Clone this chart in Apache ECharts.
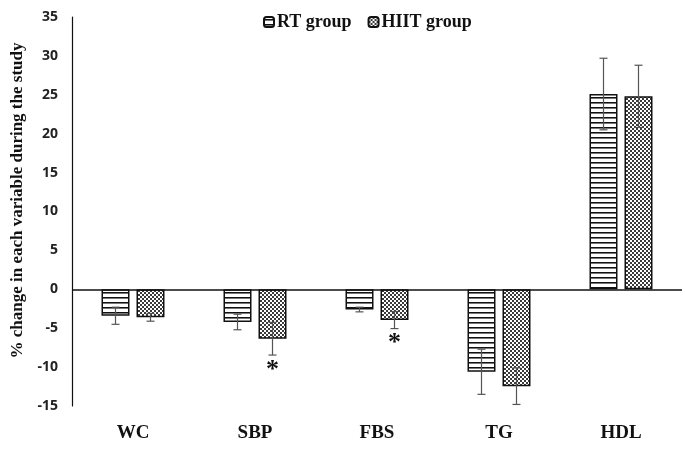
<!DOCTYPE html>
<html>
<head>
<meta charset="utf-8">
<script src="https://cdn.jsdelivr.net/npm/echarts@6/dist/echarts.min.js"></script>
<style>
  html, body { margin: 0; padding: 0; background: #fff; }
  #chart { width: 685px; height: 450px; }
</style>
</head>
<body>
<div id="chart"></div>
<script>
// data
const categories = ['WC', 'SBP', 'FBS', 'TG', 'HDL'];
const rtMean = [-3.4, -4.2, -2.6, -10.6, 25.1];
const rtSd = [1.1, 1.0, 0.3, 2.9, 4.6];
const hiitMean = [-3.6, -6.35, -3.95, -12.45, 24.8];
const hiitSd = [0.5, 2.1, 1.1, 2.35, 4.0];
const hiitSig = [0, 1, 1, 0, 0];   // * under the bar
const yTicks = { min: -15, max: 35, interval: 5 };

const BAR_W = 28;
const GAP = 7;

// hatch fills
function stripes() {
  const c = document.createElement('canvas');
  c.width = 6; c.height = 5;
  const ctx = c.getContext('2d');
  ctx.fillStyle = '#fff';
  ctx.fillRect(0, 0, 6, 5);
  ctx.fillStyle = '#111';
  ctx.fillRect(0, 2, 6, 1);
  ctx.fillStyle = '#777';
  ctx.fillRect(0, 3, 6, 1);
  return c;
}
function checker() {
  const c = document.createElement('canvas');
  c.width = 4; c.height = 4;
  const ctx = c.getContext('2d');
  ctx.fillStyle = '#fff';
  ctx.fillRect(0, 0, 4, 4);
  ctx.fillStyle = '#3a3a3a';
  ctx.fillRect(0, 0, 2, 2);
  ctx.fillRect(2, 2, 2, 2);
  return c;
}

const myChart = echarts.init(document.getElementById('chart'));

function errorSeries(means, sds, sig, offset) {
  return {
    type: 'custom',
    z: 5,
    silent: true,
    data: means.map((m, i) => [i, m, sds[i], sig ? sig[i] : 0]),
    renderItem: function (params, api) {
      const i = api.value(0), m = api.value(1), s = api.value(2);
      const hi = api.coord([i, m + s]);
      const lo = api.coord([i, m - s]);
      const cx = hi[0] + offset;
      const st = { stroke: '#555', lineWidth: 1.2 };
      const children = [
        { type: 'line', shape: { x1: cx, y1: hi[1], x2: cx, y2: lo[1] }, style: st },
        { type: 'line', shape: { x1: cx - 4, y1: hi[1], x2: cx + 4, y2: hi[1] }, style: st },
        { type: 'line', shape: { x1: cx - 4, y1: lo[1], x2: cx + 4, y2: lo[1] }, style: st }
      ];
      if (api.value(3)) {
        children.push({
          type: 'text',
          style: {
            text: '*', x: cx, y: lo[1] + 2,
            font: 'bold 26px "Liberation Serif", serif',
            fill: '#111', align: 'center', verticalAlign: 'top'
          }
        });
      }
      return { type: 'group', children: children };
    }
  };
}

const barStyle = { borderColor: '#111', borderWidth: 1.5 };

myChart.setOption({
  animation: false,
  legend: {
    top: 8,
    left: 258,
    itemWidth: 10,
    itemHeight: 10,
    itemGap: 16,
    textStyle: {
      fontFamily: '"Liberation Serif", serif',
      fontWeight: 'bold',
      fontSize: 18,
      color: '#111',
      padding: [0, 0, 0, -2]
    },
    data: ['RT group', 'HIIT group']
  },
  grid: { left: 72, right: 3, top: 17, bottom: 44 },
  xAxis: {
    type: 'category',
    data: categories,
    axisLine: { show: false, onZero: false },
    axisTick: { show: false },
    axisLabel: {
      margin: 18,
      fontFamily: '"Liberation Serif", serif',
      fontWeight: 'bold',
      fontSize: 19,
      color: '#111'
    }
  },
  yAxis: {
    type: 'value',
    min: yTicks.min,
    max: yTicks.max,
    interval: yTicks.interval,
    name: '% change in each variable during the study',
    nameLocation: 'middle',
    nameGap: 46,
    nameTextStyle: {
      fontFamily: '"Liberation Serif", serif',
      fontWeight: 'bold',
      fontSize: 17,
      color: '#111',
      padding: [0, 0, 0, 22]
    },
    axisLine: { show: true, lineStyle: { color: '#111', width: 1.2 } },
    axisTick: { show: false },
    splitLine: { show: false },
    axisLabel: {
      margin: 14,
      fontFamily: '"Open Sans", sans-serif',
      fontWeight: 'bold',
      fontSize: 14,
      color: '#222'
    }
  },
  series: [
    {
      name: 'RT group',
      type: 'bar',
      barWidth: BAR_W,
      barGap: (GAP / BAR_W * 100) + '%',
      itemStyle: Object.assign({ color: { image: stripes(), repeat: 'repeat' } }, barStyle),
      data: rtMean,
      markLine: {
        silent: true,
        symbol: 'none',
        label: { show: false },
        lineStyle: { color: '#111', width: 1.5, type: 'solid' },
        data: [{ yAxis: 0 }]
      }
    },
    {
      name: 'HIIT group',
      type: 'bar',
      barWidth: BAR_W,
      itemStyle: Object.assign({ color: { image: checker(), repeat: 'repeat' } }, barStyle),
      data: hiitMean
    },
    errorSeries(rtMean, rtSd, null, -(BAR_W + GAP) / 2),
    errorSeries(hiitMean, hiitSd, hiitSig, (BAR_W + GAP) / 2)
  ]
});

window.onresize = function () {
  myChart.resize();
};
</script>
</body>
</html>
